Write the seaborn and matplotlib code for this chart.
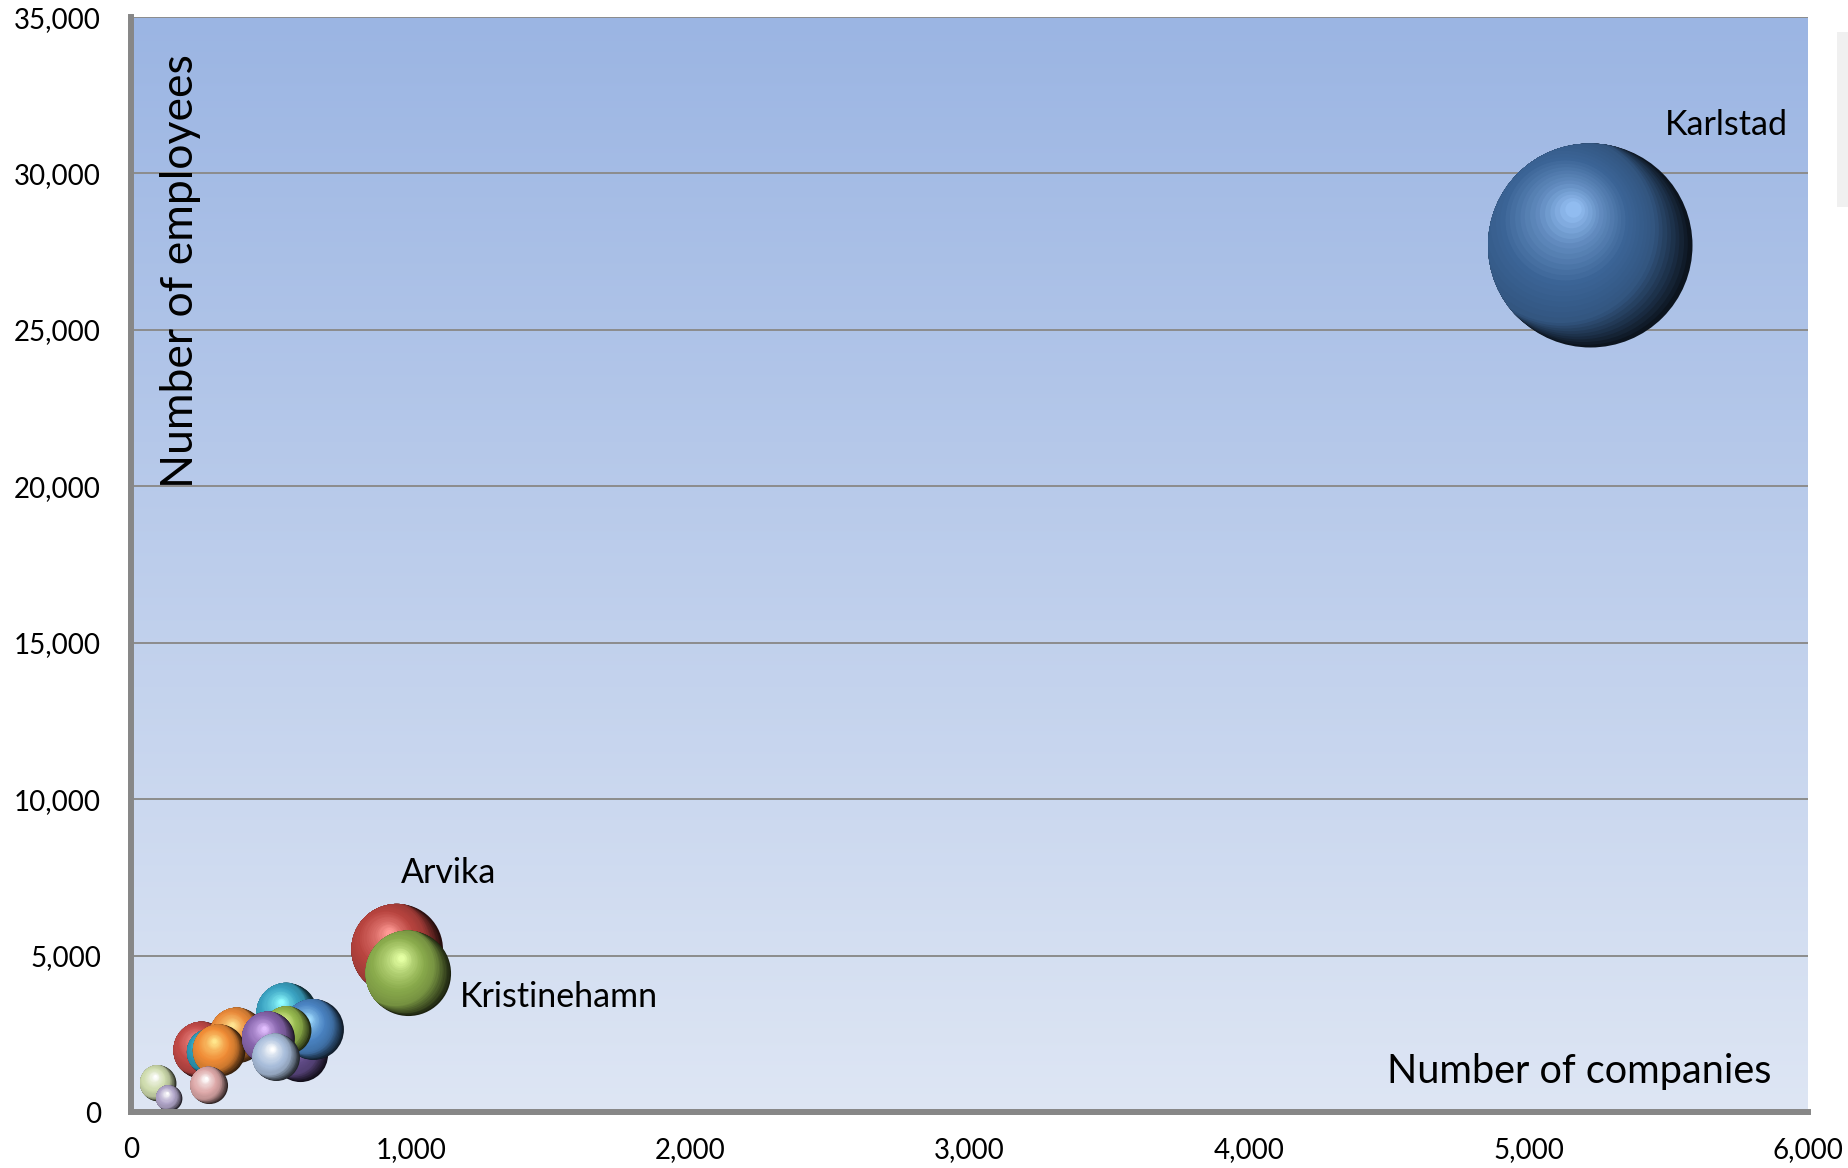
import numpy as np
import matplotlib
matplotlib.use("Agg")
import matplotlib.pyplot as plt
import matplotlib.transforms as mtransforms
from matplotlib.colors import to_rgb
from matplotlib.patches import Rectangle, Circle
from matplotlib.ticker import FuncFormatter
import seaborn as sns

# ---- data (drawn back to front) ----
labels = ["Karlstad", "Arvika", "Kristinehamn", "", "", "", "", "", "", "", "", "", "", "", "", ""]
companies = [5220, 950, 990, 252, 281, 378, 313, 555, 603, 650, 557, 490, 517, 95, 134, 277]
employees = [27700, 5200, 4440, 1980, 1920, 2460, 1970, 3170, 1870, 2640, 2620, 2370, 1760, 930, 450, 860]
bubble_size = [100, 19.9, 17.4, 7.8, 5.1, 7.3, 6.5, 8.7, 7.3, 8.9, 5.5, 6.7, 5.3, 3.1, 1.6, 3.3]
bubble_colors = ["#3b6496", "#b8443f", "#8aab4c", "#c24a47", "#2f9bb8", "#ea8a3a", "#f08c36",
                 "#3aa2c2", "#5f4a85", "#4a83c2", "#95b84e", "#8866ad", "#aabfdc", "#cfdcae",
                 "#b3a8cb", "#dea9a9"]
x_ticks = [0, 1000, 2000, 3000, 4000, 5000, 6000]
y_ticks = [0, 5000, 10000, 15000, 20000, 25000, 30000, 35000]

# ---- styling ----
label_offsets = {"Karlstad": (54, 87), "Arvika": (3, 55), "Kristinehamn": (37, -17)}
axis_grey = "#878787"
max_marker_area = (204 * 0.72) ** 2  # pt^2 for the largest bubble

sns.set_style("white")
plt.rcParams["font.family"] = ["Lato", "DejaVu Sans"]

fig = plt.figure(figsize=(18.49, 11.68), dpi=100)
ax = fig.add_axes([0.0711, 0.0479, 0.9067, 0.9375])

# plot-area background: vertical blue gradient
g = np.linspace(0, 1, 256)[:, None, None]
top_c = np.array([155, 181, 227]) / 255
bot_c = np.array([222, 230, 244]) / 255
grad = top_c * (1 - g) + bot_c * g
grad = np.repeat(grad, 2, axis=1)
ax.imshow(grad, extent=(0, 1, 0, 1), transform=ax.transAxes, aspect="auto",
          zorder=0, interpolation="bilinear")


def shade(base, t):
    """Colour of a sphere layer: dark rim -> base -> tinted highlight."""
    white = np.ones(3)
    hi = np.clip(0.5 * (base * 1.6 + 0.15) + 0.5 * (base + (white - base) * 0.5), 0, 1)
    stops = [(0.0, base * 0.2), (0.3, base * 0.85), (0.55, base),
             (0.8, base * 0.55 + hi * 0.45), (1.0, hi)]
    for (t0, c0), (t1, c1) in zip(stops[:-1], stops[1:]):
        if t <= t1:
            f = (t - t0) / (t1 - t0)
            return tuple(np.clip(c0 * (1 - f) + c1 * f, 0, 1))
    return tuple(stops[-1][1])


def layer_geom(t):
    """Radius and centre shift (in radii) of a shading layer."""
    if t <= 0.3:
        f = t / 0.3
        return 1.0 - 0.06 * f, -0.3 * f, 0.17 * f
    f = (t - 0.3) / 0.7
    return 0.94 - 0.86 * f, -0.3 + 0.13 * f, 0.17 + 0.19 * f


n_layers = 30
vmax = max(bubble_size)
for i, (cx, cy, v, col) in enumerate(zip(companies, employees, bubble_size, bubble_colors)):
    base = np.array(to_rgb(col))
    area = max_marker_area * v / vmax
    radius_pt = np.sqrt(area) / 2
    # outline of the sphere, used to clip the shading layers
    outline = Circle((0, 0), 1.0, transform=mtransforms.Affine2D().scale(radius_pt / 72)
                     + fig.dpi_scale_trans + mtransforms.ScaledTranslation(cx, cy, ax.transData))
    for k in range(n_layers):
        t = k / (n_layers - 1)
        r, sx, sy = layer_geom(t)
        sns.scatterplot(x=[cx], y=[cy], s=area * r * r, color=shade(base, t),
                        linewidth=0, legend=False, ax=ax, zorder=3 + i + 0.9 * t)
        coll = ax.collections[-1]
        coll.set_offset_transform(
            ax.transData + mtransforms.ScaledTranslation(sx * radius_pt / 72, sy * radius_pt / 72,
                                                         fig.dpi_scale_trans))
        if k > 0:
            coll.set_clip_path(outline)

# data labels
for lab, cx, cy in zip(labels, companies, employees):
    if lab:
        ax.annotate(lab, xy=(cx, cy), xytext=label_offsets[lab], textcoords="offset points",
                    ha="left", va="center", fontsize=24.5, color="black", zorder=100)

# axes
ax.set_xlim(0, 6000)
ax.set_ylim(0, 35000)
ax.set_xticks(x_ticks)
ax.set_yticks(y_ticks)
fmt = FuncFormatter(lambda v, p: f"{v:,.0f}")
ax.xaxis.set_major_formatter(fmt)
ax.yaxis.set_major_formatter(fmt)
ax.set_xlabel("")
ax.set_ylabel("")

ax.set_axisbelow(True)
ax.yaxis.grid(True, color="#8c8c8c", linewidth=1.4, zorder=1)
ax.xaxis.grid(False)

for side in ("top", "right"):
    ax.spines[side].set_visible(False)
for side in ("left", "bottom"):
    ax.spines[side].set_color(axis_grey)
    ax.spines[side].set_linewidth(4.3)
    ax.spines[side].set_zorder(50)

ax.tick_params(axis="both", direction="out", length=8, width=4.3, color=axis_grey,
               labelsize=20, labelcolor="black")
ax.tick_params(axis="y", pad=14)
ax.tick_params(axis="x", pad=10)

# axis titles placed inside the plot area
ax.text(0.029, 0.570, "Number of employees", rotation=90, transform=ax.transAxes,
        ha="center", va="bottom", fontsize=32, color="black", zorder=100)
ax.text(0.978, 0.037, "Number of companies", transform=ax.transAxes,
        ha="right", va="center", fontsize=28.5, color="black", zorder=100)

# faint legend frame at the right edge
fig.add_artist(Rectangle((1837 / 1849, 1 - 207 / 1168), 0.02, 175 / 1168,
                         transform=fig.transFigure, facecolor="#f0f0f0", edgecolor="none"))

fig.savefig("out.png", dpi=100)
